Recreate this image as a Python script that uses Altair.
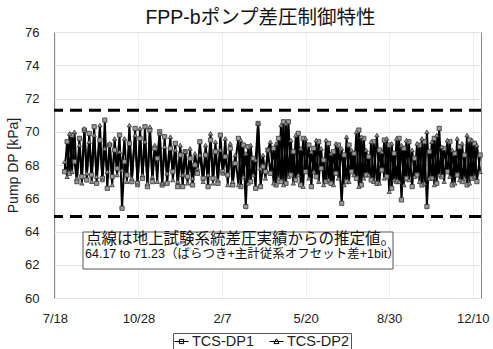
import altair as alt
import pandas as pd

chart_title = "FPP-bポンプ差圧制御特性"
series_names = ["TCS-DP1", "TCS-DP2"]
start_date = "2010-07-30"
end_date = "2011-12-19"

dp1 = [67.6, 69.4, 67.5, 69.8, 68.2, 67.0, 69.6, 67.3, 70.1, 67.1, 69.9, 67.4, 70.3, 66.9, 69.5, 67.2, 70.7, 66.6, 69.2, 67.3, 68.9, 67.8, 69.8, 65.4,
       68.2, 67.4, 69.3, 67.0, 70.2, 66.9, 69.6, 67.2, 70.3, 66.7, 70.1, 67.0, 69.0, 68.4, 70.0, 66.8, 69.7, 66.9, 69.0, 67.6, 69.3, 66.7, 68.6, 66.7, 68.8, 67.3, 68.4, 66.8, 68.0, 67.5,
       69.4, 67.2, 68.6, 66.7, 69.5, 67.2, 68.8, 66.9, 69.8, 67.6, 68.5, 67.4, 69.0, 66.8, 68.1, 69.6, 66.7, 69.2, 65.5, 69.1, 67.0, 68.4, 66.6, 70.5, 66.7, 67.9, 67.6, 68.9,
       67.5, 69.0, 66.8, 69.6, 67.0, 70.6, 66.9, 70.6, 67.4, 68.8, 67.1, 69.9, 66.8, 69.6, 67.6, 69.2, 66.7, 69.0, 67.3, 69.4, 67.8, 68.3, 67.0, 69.3, 66.9, 68.8, 67.5, 69.2, 65.7, 68.6,
       67.0, 69.2, 67.6, 68.7, 67.2, 70.1, 66.8, 69.6, 67.4, 68.5, 67.1, 69.4, 66.9, 68.9, 67.7, 69.5, 67.3, 69.2, 66.6, 68.7, 67.0, 69.6, 65.9, 69.0, 67.2, 69.4, 66.7, 68.4,
       67.4, 69.2, 66.8, 69.4, 65.5, 68.8, 67.2, 69.6, 66.9, 70.2, 67.3, 69.0, 67.6, 69.4, 66.8, 68.7, 67.4, 69.1, 67.0, 68.6, 66.8, 69.5, 67.2, 69.3, 67.0, 68.6]

dp2 = [68.2, 67.3, 69.9, 67.6, 70.0, 67.2, 69.2, 66.9, 70.2, 67.5, 69.4, 67.0, 69.8, 67.3, 70.4, 67.1, 69.0, 67.6, 69.3, 66.8, 69.6, 67.4, 68.8, 67.7,
       69.6, 67.0, 70.4, 67.2, 69.8, 66.8, 70.2, 67.4, 69.4, 66.9, 70.3, 67.3, 69.2, 67.0, 69.9, 66.9, 69.1, 67.5, 69.7, 67.1, 68.9, 67.0, 69.2, 67.4, 68.8, 66.9, 69.0, 67.2, 68.7, 67.8,
       68.6, 67.0, 69.2, 67.4, 69.9, 66.9, 69.4, 67.1, 68.9, 67.5, 69.6, 66.8, 69.3, 67.0, 68.6, 66.8, 69.5, 67.3, 68.7, 66.9, 69.2, 67.4, 68.3, 70.5, 67.8, 68.6, 67.2, 68.9,
       69.4, 66.9, 69.3, 67.2, 70.4, 66.8, 70.5, 67.3, 69.5, 66.9, 69.8, 67.4, 69.0, 66.7, 69.6, 67.2, 68.8, 67.6, 69.5, 67.0, 69.0, 66.8, 69.5, 67.1, 68.7, 66.8, 69.3, 67.2, 69.0, 66.8,
       69.7, 67.0, 68.9, 67.4, 70.0, 66.7, 69.7, 67.2, 68.9, 67.4, 69.4, 67.0, 69.8, 66.9, 68.8, 67.2, 69.6, 66.4, 69.3, 67.1, 69.6, 67.0, 69.2, 66.8, 69.5, 67.1, 68.9, 67.3,
       69.3, 67.0, 69.6, 66.9, 70.0, 67.2, 69.4, 66.8, 69.8, 67.4, 69.1, 67.0, 69.5, 67.3, 68.9, 66.9, 69.6, 67.1, 69.3, 67.2, 69.8, 66.9, 69.5, 67.3, 69.2, 67.6]

limits = [71.3, 64.9]
y_ticks = [60, 62, 64, 66, 68, 70, 72, 74, 76]
tick_dates = [(2010, 7, 18), (2010, 10, 28), (2011, 2, 7), (2011, 5, 20), (2011, 8, 30), (2011, 12, 10)]
note_lines = ["点線は地上試験系統差圧実績からの推定値。",
              "64.17 to 71.23（ばらつき+主計従系オフセット差+1bit）"]

FONT = "'Liberation Sans', 'Noto Sans CJK JP', sans-serif"


def make_df(vals, name):
    d = pd.date_range(start_date, end_date, periods=len(vals))
    return pd.DataFrame({"date": d.strftime("%Y-%m-%d"), "value": vals, "series": name})


df = pd.concat([make_df(dp1, series_names[0]), make_df(dp2, series_names[1])], ignore_index=True)

x_enc = alt.X(
    "date:T",
    scale=alt.Scale(type="utc",
                    domain=[alt.DateTime(year=2010, month=7, date=17, utc=True),
                            alt.DateTime(year=2011, month=12, date=20, utc=True)]),
    axis=alt.Axis(values=[alt.DateTime(year=a, month=b, date=c, utc=True) for a, b, c in tick_dates],
                  format="%-m/%-d", title=None, labelFontSize=13, labelPadding=14,
                  tickSize=0, domain=False, grid=True, gridColor="#eeeeee",
                  labelColor="#222", labelFont=FONT, labelFlush=False, labelOverlap=False),
)
y_axis = alt.Axis(values=y_ticks, title="Pump DP [kPa]", titleFontSize=14, titleFontWeight="normal",
                  titleColor="#222", titlePadding=4, labelFontSize=13, labelPadding=15, tickSize=0,
                  domain=False, grid=True, gridColor="#e2e2e2", labelColor="#222",
                  labelFont=FONT, titleFont=FONT, labelOverlap=False, labelFlush=False)
y_scale = alt.Scale(domain=[60, 76], nice=False)
y_enc = alt.Y("value:Q", scale=y_scale, axis=y_axis)

base = alt.Chart(df)

lines = base.mark_line(color="black", strokeWidth=2).encode(
    x=x_enc, y=y_enc, detail="series:N")

points = base.mark_point(filled=True, fill="#9a9a9a", stroke="#333", strokeWidth=0.8,
                         size=18, opacity=1).encode(
    x=x_enc, y=y_enc,
    shape=alt.Shape("series:N", scale=alt.Scale(domain=series_names, range=["square", "triangle-up"]),
                    legend=None))

sym1 = "M-1,0L1,0M-0.3,-0.3L0.3,-0.3L0.3,0.3L-0.3,0.3Z"
sym2 = "M-1,0L1,0M0,-0.38L0.36,0.3L-0.36,0.3Z"
legend_layer = base.mark_point(opacity=0).encode(
    x=x_enc, y=y_enc,
    shape=alt.Shape("series:N", scale=alt.Scale(domain=series_names, range=[sym1, sym2]),
                    legend=alt.Legend(orient="none", legendX=119, legendY=301, direction="horizontal",
                                      title=None, strokeColor="#555", fillColor="white", padding=1,
                                      labelFontSize=14.5, labelFont=FONT, labelColor="#222",
                                      symbolSize=196, symbolOpacity=1, symbolStrokeColor="black",
                                      symbolFillColor="#999999", symbolStrokeWidth=1,
                                      columnPadding=12, labelOffset=3)))

limit_df = pd.DataFrame({"value": limits})
rules = alt.Chart(limit_df).mark_rule(color="black", strokeWidth=3, strokeDash=[12, 7]).encode(
    y=y_enc)

one = pd.DataFrame({"k": [0]})
box = alt.Chart(one).mark_rect(fill="white", stroke="#555", strokeWidth=1).encode(
    x=alt.value(29), x2=alt.value(339), y=alt.value(200), y2=alt.value(237))

note1 = alt.Chart(one).mark_text(align="left", baseline="middle", fontSize=15.5, font=FONT,
                                 color="#111").encode(
    x=alt.value(32), y=alt.value(207), text=alt.value(note_lines[0]))
note2 = alt.Chart(one).mark_text(align="left", baseline="middle", fontSize=12.5, font=FONT,
                                 color="#111").encode(
    x=alt.value(31), y=alt.value(222), text=alt.value(note_lines[1]))

chart = alt.layer(lines, points, legend_layer, rules, box, note1, note2).resolve_scale(
    shape="independent"
).properties(
    width=427, height=266,
    title=alt.TitleParams(chart_title, fontSize=19.5, font=FONT, fontWeight="normal", anchor="middle",
                          offset=-2, dx=-7, color="#111"),
    autosize=alt.AutoSizeParams(type="none"),
    padding={"left": 54, "top": 32, "right": 12, "bottom": 51},
).configure_view(stroke="#888888", strokeWidth=1)

chart.save("out.html", embed_options={"renderer": "svg", "actions": False})
